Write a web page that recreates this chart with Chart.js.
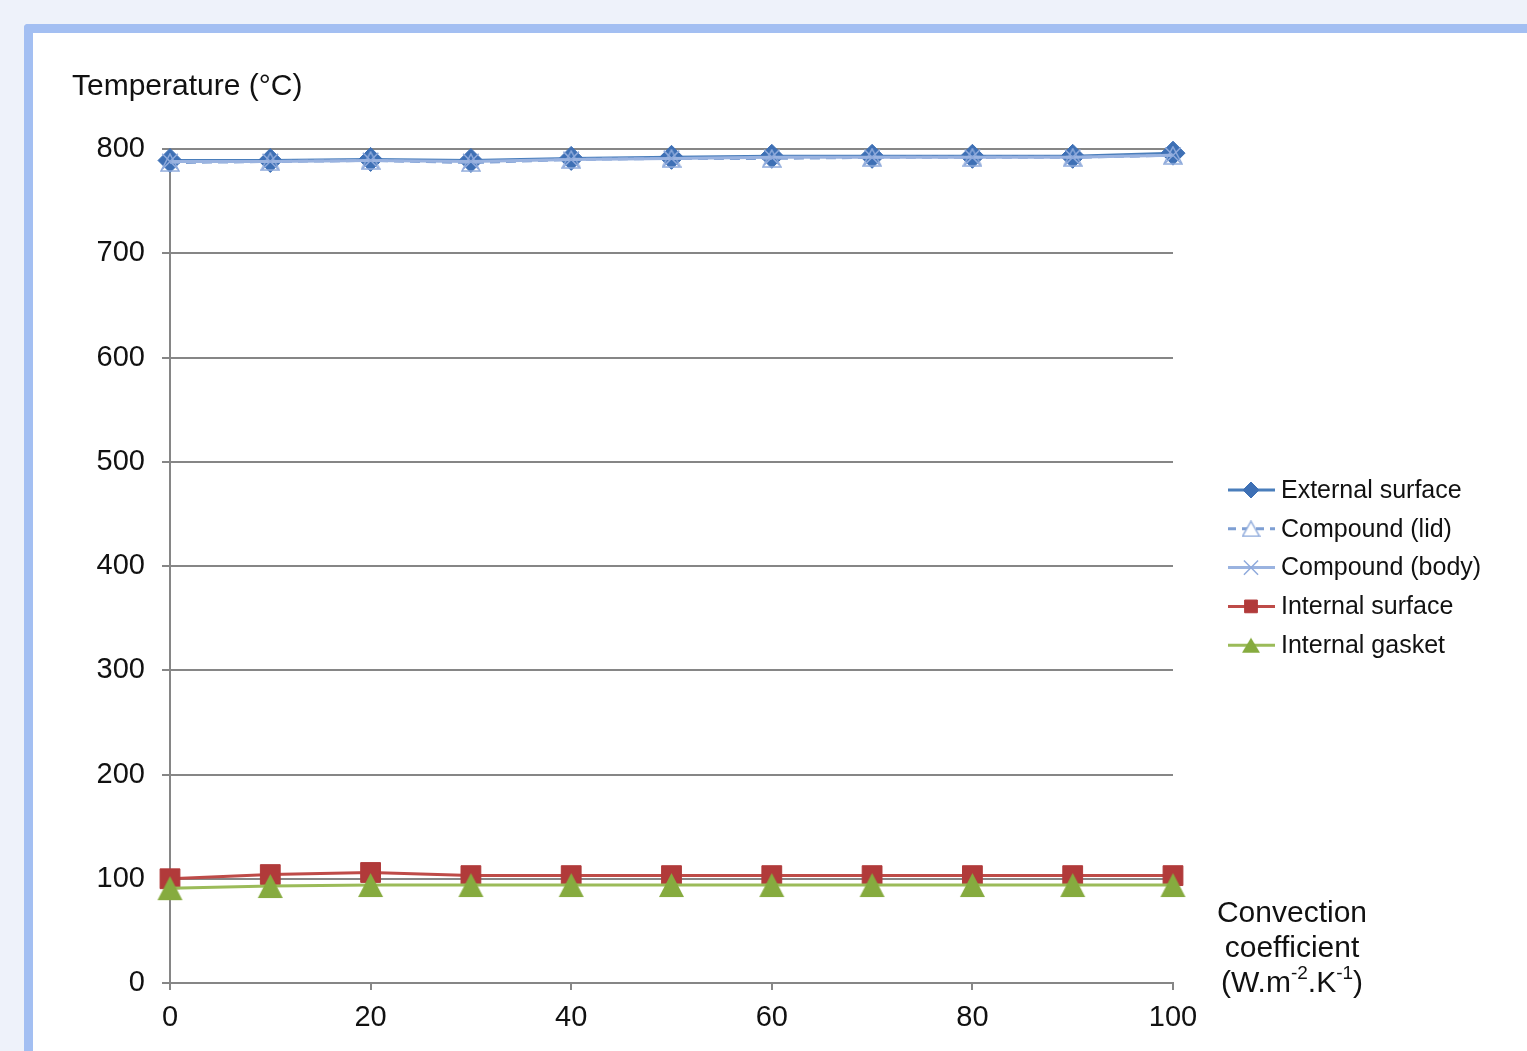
<!DOCTYPE html>
<html>
<head>
<meta charset="utf-8">
<title>Temperature vs convection coefficient</title>
<script src="https://cdn.jsdelivr.net/npm/chart.js@4/dist/chart.umd.min.js"></script>
<style>
  html, body { margin: 0; padding: 0; background: #eef2fa; overflow: hidden; }
  #frame {
    position: absolute; left: 24px; top: 24px; width: 1503px; height: 1027px;
    border-left: 9px solid #a3bff2; border-top: 9px solid #a3bff2;
    border-top-left-radius: 4px; background: #ffffff;
  }
  #wrap { position: absolute; left: 0; top: 0; width: 1494px; height: 1018px; }
</style>
</head>
<body>
<div id="frame"><div id="wrap"><canvas id="line-chart"></canvas></div></div>
<script>
// data
var coeff = [0, 10, 20, 30, 40, 50, 60, 70, 80, 90, 100];
var externalSurface = [789, 789, 790, 789, 791, 792, 793, 793, 793, 793, 796];
var compoundLid = [787, 788, 789, 787, 790, 791, 791, 792, 792, 792, 794];
var compoundBody = [788, 788, 789, 788, 790, 791, 792, 792, 792, 792, 794];
var internalSurface = [100, 104, 106, 103, 103, 103, 103, 103, 103, 103, 103];
var internalGasket = [91, 93, 94, 94, 94, 94, 94, 94, 94, 94, 94];
var xTicks = [0, 20, 40, 60, 80, 100];
var yTicks = [0, 100, 200, 300, 400, 500, 600, 700, 800];

function pts(vals) {
  return vals.map(function (v, i) { return { x: coeff[i], y: v }; });
}

// triangle marker centred on its box, like the spreadsheet does
function triangle(w, h, fill, stroke) {
  var c = document.createElement("canvas");
  c.width = w + 2; c.height = h + 2;
  var g = c.getContext("2d");
  g.beginPath();
  g.moveTo(1 + w / 2, 1);
  g.lineTo(1 + w, 1 + h);
  g.lineTo(1, 1 + h);
  g.closePath();
  if (fill) { g.fillStyle = fill; g.fill(); }
  if (stroke) { g.strokeStyle = stroke; g.lineWidth = 1.5; g.stroke(); }
  return c;
}

var gasketTri = triangle(25, 24, "#86ab3f", null);
var gasketTriSmall = triangle(18, 15, "#86ab3f", null);
var lidTri = triangle(18, 17, null, "#8eaadb");
var lidTriSmall = triangle(17, 15, "#ffffff", "#8eaadb");

var gridGray = "#868686";
var fontFam = "'Liberation Sans', Arial, sans-serif";

//Texts And Legend Drawn On Canvas
var extras = {
  id: "extras",
  afterDraw: function (chart) {
    var ctx = chart.ctx;
    ctx.save();
    ctx.fillStyle = "#111";
    ctx.textBaseline = "middle";
    ctx.font = "30px " + fontFam;
    ctx.textAlign = "left";
    ctx.fillText("Temperature (°C)", 39, 54);

    // x axis title, centred
    var cx = 1259;
    ctx.textAlign = "center";
    ctx.fillText("Convection", cx, 881);
    ctx.fillText("coefficient", cx, 916);
    // third line with superscripts
    var big = "30px " + fontFam;
    var small = "19px " + fontFam;
    var parts = [["(W.m", big, 0], ["-2", small, -10], [".K", big, 0], ["-1", small, -10], [")", big, 0]];
    var total = 0;
    parts.forEach(function (p) { ctx.font = p[1]; total += ctx.measureText(p[0]).width; });
    var x = cx - total / 2;
    ctx.textAlign = "left";
    parts.forEach(function (p) {
      ctx.font = p[1];
      ctx.fillText(p[0], x, 951 + p[2]);
      x += ctx.measureText(p[0]).width;
    });

    // legend
    ctx.font = "25px " + fontFam;
    chart.data.datasets.forEach(function (ds, i) {
      var y = 457 + i * 38.8;
      ctx.save();
      ctx.strokeStyle = ds.borderColor;
      ctx.lineWidth = 3;
      if (ds.borderDash) ctx.setLineDash([8, 6]);
      ctx.beginPath();
      ctx.moveTo(1195, y);
      ctx.lineTo(1242, y);
      ctx.stroke();
      ctx.restore();
      ctx.save();
      ctx.fillStyle = ds.pointBackgroundColor;
      ctx.strokeStyle = ds.pointBorderColor;
      ctx.lineWidth = ds.pointBorderWidth;
      Chart.helpers.drawPoint(ctx, {
        pointStyle: ds.legendStyle || ds.pointStyle,
        rotation: 0,
        radius: ds.legendRadius,
        borderWidth: ds.pointBorderWidth
      }, 1218, y);
      ctx.restore();
      ctx.fillStyle = "#111";
      ctx.fillText(ds.label, 1248, y + 1);
    });
    ctx.restore();
  }
};

new Chart(document.getElementById("line-chart"), {
  type: "line",
  data: {
    datasets: [{
        label: "External surface",
        data: pts(externalSurface),
        order: 4,
        borderColor: "#4a7ebb",
        borderWidth: 3,
        pointStyle: "rectRot",
        pointRadius: 12,
        legendRadius: 8,
        pointBackgroundColor: "#3e70b5",
        pointBorderColor: "#3e70b5",
        pointBorderWidth: 1
      }, {
        label: "Compound (lid)",
        data: pts(compoundLid),
        order: 3,
        borderColor: "#7e9fd3",
        borderWidth: 3,
        borderDash: [10, 6],
        pointStyle: lidTri,
        legendStyle: lidTriSmall,
        pointRadius: 10,
        legendRadius: 10,
        pointBackgroundColor: "#ffffff",
        pointBorderColor: "#8eaadb",
        pointBorderWidth: 1.5
      }, {
        label: "Compound (body)",
        data: pts(compoundBody),
        order: 2,
        borderColor: "#9ab3e0",
        borderWidth: 3,
        pointStyle: "crossRot",
        pointRadius: 11,
        legendRadius: 10,
        pointBackgroundColor: "#8faadc",
        pointBorderColor: "#8faadc",
        pointBorderWidth: 1.5
      }, {
        label: "Internal surface",
        data: pts(internalSurface),
        order: 1,
        borderColor: "#be4b48",
        borderWidth: 3,
        pointStyle: "rect",
        pointRadius: 14,
        legendRadius: 9,
        pointBackgroundColor: "#b13a3a",
        pointBorderColor: "#b13a3a",
        pointBorderWidth: 1
      }, {
        label: "Internal gasket",
        data: pts(internalGasket),
        order: 0,
        borderColor: "#9bbb59",
        borderWidth: 3,
        pointStyle: gasketTri,
        legendStyle: gasketTriSmall,
        pointRadius: 14,
        legendRadius: 10,
        pointBackgroundColor: "#86ab3f",
        pointBorderColor: "#86ab3f",
        pointBorderWidth: 1
      }
    ]
  },
  options: {
    responsive: true,
    maintainAspectRatio: false,
    animation: false,
    clip: false,
    layout: { padding: { top: 116, left: 0, right: 354, bottom: 0 } },
    plugins: {
      legend: { display: false },
      title: { display: false },
      tooltip: { enabled: false }
    },
    scales: {
      x: {
        type: "linear",
        min: 0,
        max: 100,
        afterFit: function (s) { s.height = 68; },
        afterBuildTicks: function (s) { s.ticks = xTicks.map(function (v) { return { value: v }; }); },
        grid: { drawOnChartArea: false, color: gridGray, lineWidth: 2, tickLength: 7 },
        border: { color: gridGray, width: 2 },
        ticks: {
          color: "#111",
          padding: 11,
          maxRotation: 0,
          font: { family: fontFam, size: 29 }
        }
      },
      y: {
        min: 0,
        max: 800,
        afterFit: function (s) { s.width = 137; },
        afterBuildTicks: function (s) { s.ticks = yTicks.map(function (v) { return { value: v }; }); },
        grid: { color: gridGray, lineWidth: 2, tickLength: 8 },
        border: { color: gridGray, width: 2 },
        ticks: {
          color: "#111",
          padding: 17,
          font: { family: fontFam, size: 29 }
        }
      }
    }
  },
  plugins: [extras]
});
</script>
</body>
</html>
